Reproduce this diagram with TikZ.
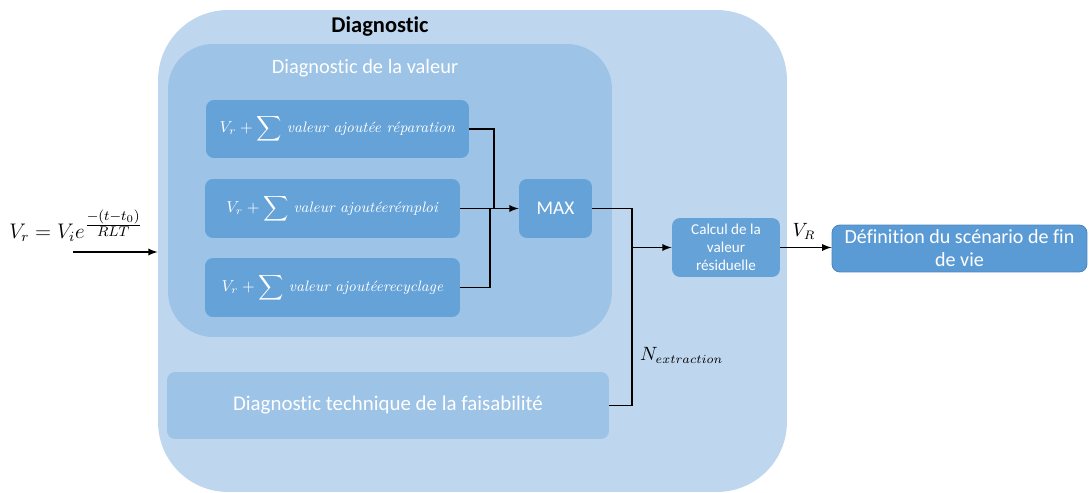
\documentclass[tikz,border=0pt]{standalone}
\usepackage{fontspec}
\newfontfamily\calibri[Ligatures=NoCommon]{Carlito}
\usetikzlibrary{positioning}

\definecolor{bleuclair}{HTML}{BFD7EE}
\definecolor{bleumoyen}{HTML}{9DC3E6}
\definecolor{bleubox}{HTML}{64A2D8}
\definecolor{bleufonce}{HTML}{5B9BD5}
\definecolor{bleubord}{HTML}{4A86BE}

\tikzset{
  zone/.style={fill=#1, draw=none, rounded corners=0.9cm},
  calcbox/.style={fill=bleubox, draw=none, rounded corners=0.16cm, text=white,
    minimum height=1.18cm, inner sep=2pt},
  lien/.style={line width=0.85pt},
}

\begin{document}
\begin{tikzpicture}[x=0.02cm, y=-0.02cm]
  \useasboundingbox (0,0) rectangle (1090,493);

  % grandes zones
  \node (diag) [zone=bleuclair, rounded corners=1.4cm, minimum width=12.58cm, minimum height=9.64cm] at (472.5,251) {};
  \node (diagtitre) [font=\calibri\bfseries\fontsize{12.8}{14}\selectfont] at (380,27) {Diagnostic};
  \node (valeurzone) [zone=bleumoyen, minimum width=8.88cm, minimum height=5.86cm] at (390,190.5) {};
  \node (valeurtitre) [text=white, font=\calibri\fontsize{11.6}{13}\selectfont] at (365,68) {Diagnostic de la valeur};
  \node (faisab) [zone=bleumoyen, rounded corners=0.16cm, minimum width=8.84cm, minimum height=1.34cm, text=white,
    font=\calibri\fontsize{11.9}{13}\selectfont] at (388,405.5) {Diagnostic technique de la faisabilit\'e};

  % calculs de valeur
  \node (rep) [calcbox, minimum width=5.26cm, minimum height=1.16cm, font=\fontsize{8.6}{10}\selectfont] at (337.5,129) {$V_r+\displaystyle\sum$ \textit{valeur ajout\'ee r\'eparation}};
  \node (remploi) [calcbox, minimum width=5.1cm, font=\fontsize{8.6}{10}\selectfont] at (332.5,208.5) {$V_r+\displaystyle\sum$ \textit{valeur ajout\'eer\'emploi}};
  \node (recyc) [calcbox, minimum width=5.1cm, font=\fontsize{8.6}{10}\selectfont] at (332.5,287.5) {$V_r+\displaystyle\sum$ \textit{valeur ajout\'eerecyclage}};
  \node (max) [calcbox, minimum width=1.46cm, font=\calibri\fontsize{11}{12}\selectfont] at (555.5,208.5) {MAX};
  \node (calcul) [calcbox, minimum width=2.16cm, align=center, font=\calibri\fontsize{8.6}{10.2}\selectfont] at (726,247.5) {Calcul de la\\ valeur\\ r\'esiduelle};
  \node (defin) [fill=bleufonce, draw=bleubord, line width=0.5pt, rounded corners=0.16cm, text=white,
    minimum width=5.1cm, minimum height=0.94cm, align=center, inner sep=1pt,
    font=\calibri\fontsize{11.4}{13}\selectfont] at (959.5,248.5)
    {D\'efinition du sc\'enario de fin\\ de vie};

  % entree
  \coordinate (entree) at (73,252);
  \node (formule) [font=\fontsize{11.5}{13}\selectfont] at (76,226) {$V_r=V_i e^{\frac{\scriptstyle -(t-t_0)}{\scriptstyle RLT}}$};

  % jonctions
  \coordinate (j1) at (494,208.5);
  \coordinate (j3) at (490,208.5);
  \coordinate (j2) at (632,247.5);

  \draw[lien, -latex] (entree) -- (entree -| diag.west);
  \draw[lien] (rep.east) -| (j1);
  \draw[lien] (recyc.east) -| (j3);
  \draw[lien, -latex] (remploi.east) -- (max.west);
  \draw[lien] (max.east) -| (j2);
  \draw[lien] (faisab.east) -| (j2);
  \draw[lien, -latex] (j2) -- (calcul.west);
  \draw[lien, -latex] (calcul.east) -- (calcul.east -| defin.west);

  \node (vr) [font=\fontsize{10.5}{12}\selectfont] at (804,231) {$V_R$};
  \node (nextr) [anchor=west, font=\fontsize{10.5}{12}\selectfont] at (634,355) {$N_{extraction}$};
\end{tikzpicture}
\end{document}
